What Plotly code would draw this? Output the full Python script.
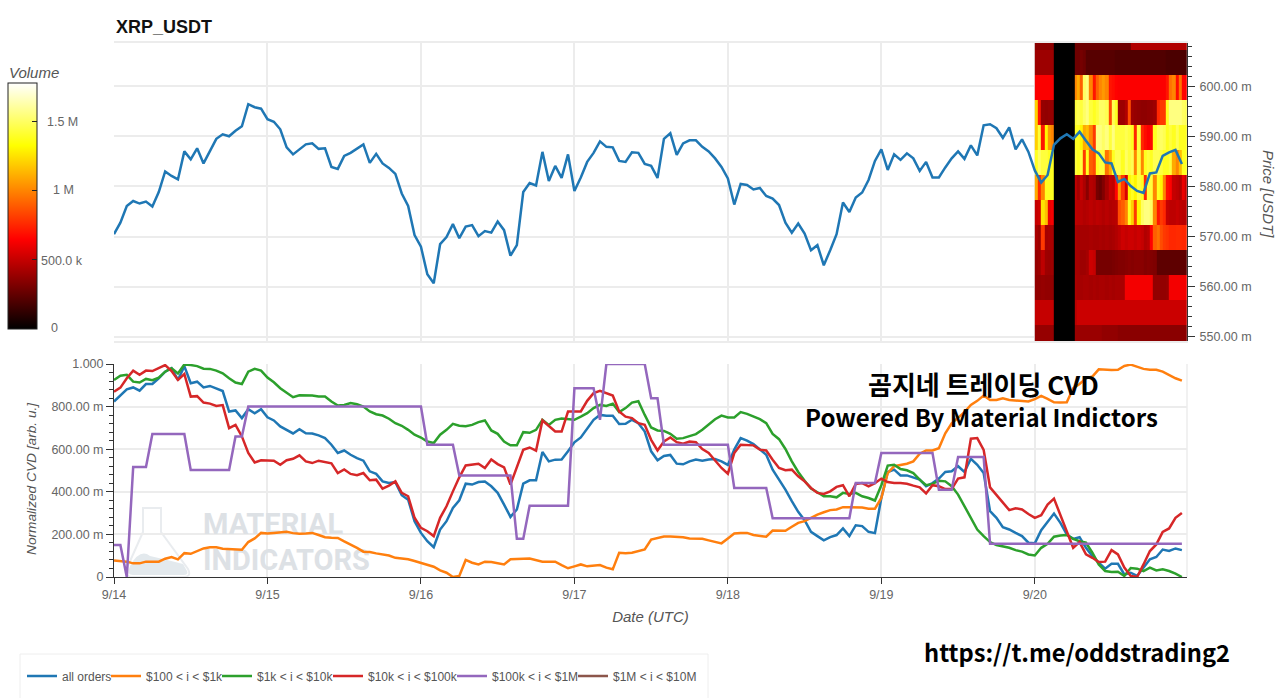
import pandas as pd
import plotly.graph_objects as go

HOURS = pd.date_range("2024-09-14", periods=168, freq="h")

PRICE = [
 570.5,572.8,576.1,577.1,576.6,577.0,576.0,578.9,583.0,582.1,581.4,587.0,585.4,587.6,584.6,586.9,589.5,590.4,590.0,591.1,592.0,596.4,595.8,595.5,
 593.4,592.9,591.4,587.8,586.4,587.4,588.4,588.6,587.5,587.6,583.9,583.5,586.1,586.7,587.6,588.4,584.7,586.5,584.6,583.7,582.5,578.6,576.1,570.3,
 568.0,562.5,560.7,568.5,569.9,572.5,569.7,572.0,572.3,570.1,571.1,570.8,573.0,571.3,566.2,568.3,578.9,580.7,580.2,586.9,581.1,584.1,581.7,586.4,
 579.1,581.8,584.9,586.7,589.0,587.9,587.8,585.1,584.9,586.8,586.7,584.5,584.1,581.7,589.5,590.6,586.3,588.6,589.2,589.2,587.9,587.0,585.6,583.9,
 581.6,576.4,580.5,580.3,579.4,579.7,578.1,577.6,576.3,572.8,570.8,572.6,570.6,567.3,568.3,564.3,567.3,570.5,576.8,574.9,577.8,578.8,581.3,585.1,
 587.4,583.3,586.4,585.3,586.6,585.6,583.1,584.9,581.8,581.8,583.8,585.6,587.0,585.5,588.2,586.2,592.2,592.4,591.6,589.7,591.8,587.4,589.4,586.9,
 583.2,580.8,582.3,588.3,589.6,590.4,589.5,590.9,589.1,587.4,586.6,584.8,584.6,580.9,581.5,580.1,579.1,578.7,582.6,582.8,586.1,586.8,587.3,584.5,
]

ALL_ORDERS = [
 .824,.852,.881,.89,.875,.906,.906,.933,.964,.98,.925,.99,.91,.917,.89,.897,.886,.873,.777,.782,.746,.788,.769,.788,
 .75,.735,.707,.691,.674,.694,.675,.674,.665,.652,.621,.582,.594,.574,.558,.546,.496,.484,.449,.441,.445,.384,.363,.262,
 .207,.168,.14,.223,.262,.324,.36,.438,.434,.446,.448,.426,.395,.34,.282,.317,.438,.454,.454,.587,.543,.551,.552,.59,
 .632,.655,.699,.738,.761,.757,.757,.718,.719,.738,.722,.683,.59,.548,.568,.573,.532,.529,.543,.551,.546,.552,.554,.543,
 .526,.598,.652,.64,.624,.598,.574,.504,.457,.41,.356,.306,.267,.212,.192,.172,.187,.197,.228,.192,.243,.239,.212,.206,
 .371,.493,.504,.477,.477,.468,.457,.426,.441,.462,.493,.496,.52,.493,.555,.527,.488,.309,.278,.234,.223,.207,.192,.161,
 .158,.22,.262,.298,.254,.2,.179,.187,.137,.098,.067,.039,.062,.062,.012,.02,.005,.044,.083,.094,.129,.122,.134,.126,
]

TIER_100_1K = [
 .078,.076,.072,.064,.064,.072,.072,.072,.086,.094,.083,.112,.109,.122,.134,.14,.14,.133,.131,.128,.128,.164,.181,.207,
 .204,.207,.21,.212,.206,.203,.204,.207,.197,.187,.184,.183,.167,.153,.137,.119,.117,.111,.106,.101,.09,.087,.083,.075,
 .067,.059,.048,.031,.02,0,.005,.08,.067,.059,.072,.07,.064,.059,.083,.083,.086,.087,.078,.072,.072,.072,.056,.041,
 .05,.059,.05,.053,.056,.044,.036,.114,.111,.114,.122,.129,.176,.184,.19,.19,.189,.187,.181,.179,.179,.172,.164,.158,
 .181,.204,.206,.207,.197,.192,.189,.218,.217,.217,.236,.254,.262,.278,.293,.304,.314,.317,.328,.328,.328,.326,.321,.321,
 .371,.488,.52,.527,.532,.543,.579,.594,.594,.605,.675,.722,.746,.774,.808,.827,.852,.831,.831,.839,.831,.828,.824,.824,
 .835,.85,.836,.82,.819,.82,.886,.906,.933,.941,.975,.973,.972,.973,.991,.997,.988,.977,.973,.973,.964,.949,.933,.922,
]

TIER_1K_10K = [
 .925,.945,.949,.917,.913,.93,.924,.936,.964,.98,.956,.998,.995,.99,.978,.977,.969,.956,.933,.913,.906,.964,.977,.969,
 .936,.914,.886,.863,.844,.853,.852,.852,.847,.847,.824,.805,.808,.817,.811,.8,.777,.764,.758,.743,.722,.71,.691,.668,
 .655,.636,.629,.668,.691,.719,.71,.708,.714,.727,.735,.688,.672,.636,.618,.618,.68,.677,.691,.738,.714,.738,.744,.741,
 .738,.753,.769,.793,.808,.803,.814,.774,.793,.819,.825,.761,.702,.688,.686,.672,.649,.652,.661,.671,.691,.714,.741,.758,
 .749,.749,.774,.766,.753,.741,.722,.672,.647,.601,.543,.493,.452,.415,.398,.379,.379,.374,.395,.39,.395,.379,.371,.359,
 .431,.523,.527,.507,.501,.488,.457,.431,.437,.452,.449,.426,.387,.332,.278,.223,.192,.164,.15,.145,.137,.126,.119,.106,
 .101,.137,.156,.189,.195,.197,.179,.168,.161,.114,.059,.028,.023,.025,.005,.042,.039,.028,.044,.031,.036,.028,.016,0,
]

TIER_10K_100K = [
 .87,.889,.933,.969,.949,.969,.967,.98,.995,.967,.925,.953,.847,.849,.819,.814,.803,.807,.699,.714,.66,.582,.538,.548,
 .548,.546,.527,.548,.555,.571,.543,.535,.546,.54,.534,.488,.505,.484,.478,.488,.454,.457,.415,.429,.449,.395,.379,.278,
 .231,.215,.192,.278,.332,.402,.468,.524,.527,.532,.512,.552,.53,.515,.434,.519,.597,.608,.593,.735,.71,.683,.683,.777,
 .777,.777,.827,.863,.874,.863,.852,.777,.753,.746,.722,.715,.644,.594,.636,.655,.633,.626,.636,.633,.601,.582,.548,.512,
 .485,.582,.621,.621,.618,.598,.594,.551,.512,.501,.504,.473,.449,.418,.395,.39,.402,.423,.431,.379,.437,.441,.426,.441,
 .462,.446,.441,.441,.438,.429,.421,.392,.431,.426,.413,.413,.462,.468,.649,.652,.597,.421,.387,.348,.314,.323,.317,.296,
 .278,.29,.34,.368,.29,.215,.137,.164,.106,.09,.07,.072,.126,.106,.044,.005,0,.059,.122,.153,.212,.228,.278,.301,
]

TIER_100K_1M = [
 .15,.15,0,.516,.516,.516,.671,.671,.671,.671,.671,.671,.502,.502,.502,.502,.502,.502,.502,.66,.66,.8,.8,.8,
 .8,.8,.8,.8,.8,.8,.8,.8,.8,.8,.8,.8,.8,.8,.8,.8,.8,.8,.8,.8,.8,.8,.8,.8,
 .8,.621,.621,.621,.621,.621,.477,.477,.477,.477,.477,.477,.477,.477,.477,.179,.179,.335,.335,.335,.335,.335,.335,.335,
 .886,.886,.886,.886,.738,1,1,1,1,1,1,1,.839,.839,.621,.621,.621,.621,.621,.621,.621,.621,.621,.621,
 .621,.418,.418,.418,.418,.418,.418,.276,.276,.276,.276,.276,.276,.276,.276,.276,.276,.276,.276,.276,.441,.441,.441,.441,
 .582,.582,.582,.582,.582,.582,.582,.582,.582,.41,.41,.41,.563,.563,.563,.563,.563,.156,.156,.156,.156,.156,.156,.156,
 .156,.156,.156,.156,.156,.156,.156,.156,.156,.156,.156,.156,.156,.156,.156,.156,.156,.156,.156,.156,.156,.156,.156,.156,
]

SERIES_NAMES = ["all orders", "$100 < i < $1k", "$1k < i < $10k", "$10k < i < $100k", "$100k < i < $1M", "$1M < i < $10M"]
SERIES_COLORS = ["#1f77b4", "#ff7f0e", "#2ca02c", "#d62728", "#9467bd", "#8c564b"]
LEGEND_WIDTHS = [39, 66, 66, 79, 76, 86]

# heatmap: column edges in hours after 9/20 00:00, price band edges, volume in thousands
HEAT_HOURS = [0,.5,1,1.5,2,2.5,3,6.2,6.5,7,7.5,8,8.5,9,9.5,10,10.5,11,11.5,12,12.5,13,13.5,14,14.5,15,15.5,16,16.5,17,17.5,18,18.5,19,19.5,20,20.5,21,21.5,22,22.5,23,23.5,23.8]
HEAT_PRICE = [549.2,552.3,557.3,562.3,567.3,572.3,577.3,582.3,587.3,592.3,597.3,602.3,607.3,608.6]
BAND_M = [380,380,380,380,380,380,0,390,390,390,390,390,390,390,390,390,370,370,370,370,370,350,350,350,350,350,350,350,350,350,350,350,350,350,350,350,350,350,350,350,350,350,350]
BAND_L = [500,500,500,500,500,500,0,470,515,515,515,515,515,515,515,515,515,515,515,515,515,515,515,515,515,515,515,515,515,515,515,515,515,515,515,515,515,515,515,515,515,515,515]
BAND_K = [370,370,380,370,370,370,0,430,420,420,430,430,420,430,420,430,430,420,430,420,430,430,430,620,620,620,620,620,620,620,620,620,370,370,370,370,380,620,620,620,620,620,620]
BAND_J = [380,400,480,400,390,400,0,420,420,400,400,420,520,500,300,300,300,300,300,310,320,330,330,340,350,340,350,350,350,330,340,330,320,240,240,240,240,240,240,240,240,240,240]
BAND_I = [430,400,800,420,430,430,0,430,420,420,420,420,430,420,420,430,420,430,420,430,450,480,520,500,520,520,500,520,500,450,470,650,900,950,850,800,780,750,750,760,760,750,750]
BAND_H = [500,520,1250,1150,600,620,0,480,470,470,450,460,480,460,480,470,450,470,450,460,470,850,900,1000,1380,1200,800,1300,1500,1550,1550,1500,1000,700,800,750,500,480,480,500,480,470,470]
BAND_G = [1100,750,1000,1380,1380,1380,0,480,420,500,440,350,460,440,300,270,330,420,500,480,660,1050,800,550,1300,1380,1300,1430,1380,750,1430,1430,1000,1380,1300,1000,680,650,500,480,450,600,500]
BAND_F = [1380,1500,1430,1430,1380,1380,0,1430,1380,1430,800,1380,900,850,1380,1430,1430,950,1100,1380,1470,1470,1380,1500,1430,1470,1000,1430,1000,1380,1430,1380,1470,1470,1430,1380,1380,1430,1100,1000,1150,1380,1380]
BAND_E = [1200,1430,700,1300,1050,1000,0,1380,1380,1300,1100,1150,1000,800,1550,1550,1500,1550,1430,1550,1430,1430,1430,1470,1430,1380,750,1430,750,680,640,660,1380,1470,1500,1470,1380,1430,1380,1470,1380,1380,1380]
BAND_D = [1200,700,380,370,380,380,0,1430,1470,1430,1500,1550,1430,1380,1430,1500,1500,1470,850,1470,1380,400,400,450,850,400,380,370,360,360,370,380,400,750,800,800,1380,1550,1550,1550,1550,1500,1470]
BAND_C = [640,640,640,640,640,640,0,1000,1100,900,1500,1550,1000,700,900,1000,1050,1000,700,680,650,640,640,640,640,640,640,640,640,640,640,640,640,640,640,640,700,950,1000,680,950,660,650]
BAND_B = [400,400,400,400,400,400,0,280,280,300,280,220,220,220,220,220,220,220,220,220,205,205,205,205,205,205,205,205,205,205,205,205,205,205,205,205,190,190,190,190,190,190,190]
BAND_A = [350,350,350,350,350,350,0,280,280,280,280,280,280,280,280,280,280,280,280,280,280,280,280,280,280,450,450,450,450,450,450,450,450,450,450,450,450,450,450,450,450,450,450]
VOLUME = [BAND_M, BAND_L, BAND_K, BAND_J, BAND_I, BAND_H, BAND_G, BAND_F, BAND_E, BAND_D, BAND_C, BAND_B, BAND_A]

PRICE_TICKS = [550, 560, 570, 580, 590, 600]
PRICE_LABELS = ["550.00 m", "560.00 m", "570.00 m", "580.00 m", "590.00 m", "600.00 m"]
CVD_TICKS = [0, .2, .4, .6, .8, 1]
CVD_LABELS = ["0", "200.00 m", "400.00 m", "600.00 m", "800.00 m", "1.000"]
VOLUME_TICKS = [0, 500, 1000, 1500]
VOLUME_LABELS = ["0", "500.0 k", "1 M", "1.5 M"]
WATERMARK_WORDS = ["MATERIAL", "INDICATORS"]

W, H = 1280, 698
def fx(px): return px / W
def fy(py): return 1 - py / H
def path(*cmds):
    out = []
    for c in cmds:
        if isinstance(c, str):
            out.append(c)
        else:
            out.append(f"{fx(c[0]):.5f},{fy(c[1]):.5f}")
    return " ".join(out)

TICK = dict(size=12.5, color="#666666", family="Liberation Sans")
TITLE = dict(size=15, color="#555555", family="Liberation Sans")
GRID = "#ececec"

fig = go.Figure()

heat_x = [pd.Timestamp("2024-09-20") + pd.Timedelta(hours=h) for h in HEAT_HOURS]
fig.add_trace(go.Heatmap(
    x=heat_x, y=HEAT_PRICE, z=VOLUME, xaxis="x", yaxis="y", zmin=0, zmax=1775,
    colorscale=[[0, "#000000"], [0.365, "#ff0000"], [0.746, "#ffff00"], [1, "#ffffff"]],
    hoverinfo="skip",
    colorbar=dict(x=fx(8), xanchor="left", xpad=0, y=fy(83), yanchor="top", ypad=0,
                  thickness=29, thicknessmode="pixels", len=246 / H, lenmode="fraction",
                  outlinecolor="#222222", outlinewidth=1, showticklabels=False,
                  tickmode="array", tickvals=VOLUME_TICKS, ticks="inside", ticklen=5,
                  tickcolor="#222222", tickwidth=1),
))
fig.add_trace(go.Scatter(x=HOURS, y=PRICE, mode="lines", xaxis="x", yaxis="y", showlegend=False,
                         line=dict(color=SERIES_COLORS[0], width=2.5), hoverinfo="skip"))

# watermark text sits under the CVD lines
fig.add_trace(go.Scatter(
    x=[pd.Timestamp("2024-09-14 13:55")] * 2, y=[.234, .067], text=WATERMARK_WORDS, mode="text",
    textposition="middle right", xaxis="x2", yaxis="y2", showlegend=False, hoverinfo="skip",
    textfont=dict(family="Roboto", size=29, color="#dde1e5", weight="bold"),
))

series = [ALL_ORDERS, TIER_100_1K, TIER_1K_10K, TIER_10K_100K, TIER_100K_1M, [None] * 168]
for name, color, vals, lw in zip(SERIES_NAMES, SERIES_COLORS, series, LEGEND_WIDTHS):
    fig.add_trace(go.Scatter(x=HOURS, y=vals, name=name, mode="lines", xaxis="x2", yaxis="y2",
                             line=dict(color=color, width=2.5), cliponaxis=False,
                             legendwidth=lw, hoverinfo="skip"))

x_range = ["2024-09-14 00:00", "2024-09-20 23:48"]
day_ticks = pd.date_range("2024-09-14", periods=7, freq="D")

annotations = [
    dict(text="곰지네 트레이딩 CVD", x=fx(983.5), y=fy(383), font=dict(family="Noto Sans CJK KR", size=26, color="#000", weight="bold")),
    dict(text="Powered By Material Indictors", x=fx(981), y=fy(416), font=dict(family="Noto Sans CJK KR", size=24, color="#000", weight="bold")),
    dict(text="https://t.me/oddstrading2", x=fx(1077), y=fy(652), font=dict(family="Noto Sans CJK KR", size=23.7, color="#000", weight="bold")),
    dict(text="XRP_USDT", x=fx(114), y=fy(27), xanchor="left", font=dict(family="Liberation Sans", size=18, color="#111", weight="bold")),
    dict(text="<i>Volume</i>", x=fx(34), y=fy(72), font=dict(family="Liberation Sans", size=15, color="#555555")),
    dict(text="<i>Normalized CVD [arb. u.]</i>", x=fx(31), y=fy(479), textangle=-90,
         font=dict(family="Liberation Sans", size=13.7, color="#555555")),
    dict(text="<i>Price [USDT]</i>", x=fx(1269), y=fy(194), textangle=90, font=TITLE),
]
for tick_value, label, py in zip(VOLUME_TICKS, VOLUME_LABELS, [328, 261, 190, 122]):
    annotations.append(dict(text=label, x=fx({0: 54, 500: 62, 1000: 63, 1500: 62}[tick_value]), y=fy(py), font=TICK))
for a in annotations:
    a.update(xref="paper", yref="paper", showarrow=False)
    a.setdefault("xanchor", "center")
    a.setdefault("yanchor", "middle")

shapes = [
    dict(type="rect", xref="paper", yref="paper", x0=fx(20), x1=fx(708), y0=fy(654), y1=fy(704),
         line=dict(color="#eeeeee", width=1), layer="below"),
    dict(type="line", xref="paper", yref="paper", x0=fx(1187), x1=fx(1187), y0=fy(364), y1=fy(577),
         line=dict(color=GRID, width=1.5), layer="below"),
    dict(type="path", xref="paper", yref="paper", layer="below", line=dict(color="#e9ecef", width=2),
         path=path("M", (143, 508), "L", (161, 508), "L", (161, 532), "L", (188, 569), "Q", (192, 577), (183, 577),
                   "L", (133, 577), "Q", (123, 577), (127, 568), "L", (143, 532), "Z")),
    dict(type="path", xref="paper", yref="paper", layer="below", line=dict(width=0), fillcolor="#e3e9ed",
         path=path("M", (130, 566), "Q", (140, 548), (150, 556), "Q", (168, 560), (183, 564), "L", (187, 571),
                   "Q", (189, 575), (183, 575), "L", (133, 575), "Q", (126, 575), (130, 566), "Z")),
]

fig.update_layout(
    width=W, height=H, autosize=False, margin=dict(l=0, r=0, t=0, b=0, autoexpand=False),
    paper_bgcolor="white", plot_bgcolor="white", font=dict(family="Liberation Sans"),
    annotations=annotations, shapes=shapes,
    legend=dict(orientation="h", x=fx(22), xanchor="left", y=fy(676), yanchor="middle",
                font=dict(size=12, color="#555555", family="Liberation Sans"), bgcolor="rgba(0,0,0,0)",
                itemclick=False, itemdoubleclick=False, tracegroupgap=0),
    xaxis=dict(domain=[fx(114), fx(1187)], anchor="y", range=x_range, type="date", tickvals=day_ticks,
               showticklabels=False, ticks="", showgrid=True, gridcolor=GRID, gridwidth=1.5,
               showline=True, mirror=True, linecolor=GRID, linewidth=1.5, zeroline=False),
    yaxis=dict(domain=[fy(341), fy(43)], anchor="x", side="right", range=[549.2, 608.6],
               tickvals=PRICE_TICKS, ticktext=PRICE_LABELS, tickfont=TICK, ticks="outside", ticklen=7,
               ticklabelstandoff=2, tickcolor="#333333", showline=True, linecolor="#333333", linewidth=1,
               showgrid=True, gridcolor=GRID, gridwidth=1.5, zeroline=False,
               minor=dict(dtick=2, tick0=550, ticks="outside", ticklen=4, tickcolor="#333333", showgrid=False)),
    xaxis2=dict(domain=[fx(114), fx(1187)], anchor="y2", range=x_range, type="date", tickvals=day_ticks,
                tickformat="%-m/%d", tickfont=TICK, ticks="outside", ticklen=6, tickcolor="#333333",
                showline=True, linecolor="#333333", linewidth=1, showgrid=True, gridcolor=GRID, gridwidth=1.5,
                zeroline=False, title=dict(text="<i>Date (UTC)</i>", font=TITLE, standoff=10)),
    yaxis2=dict(domain=[fy(577), fy(364)], anchor="x2", range=[0, 1], tickvals=CVD_TICKS, ticktext=CVD_LABELS,
                tickfont=TICK, ticks="outside", ticklen=7, tickcolor="#333333", showline=True,
                linecolor="#333333", linewidth=1, showgrid=True, gridcolor=GRID, gridwidth=1.5, zeroline=False,
                minor=dict(dtick=.04, tick0=0, ticks="outside", ticklen=4, tickcolor="#333333", showgrid=False)),
)

fig.write_html("out.html", config=dict(displayModeBar=False), post_script="document.body.style.margin='0';")
